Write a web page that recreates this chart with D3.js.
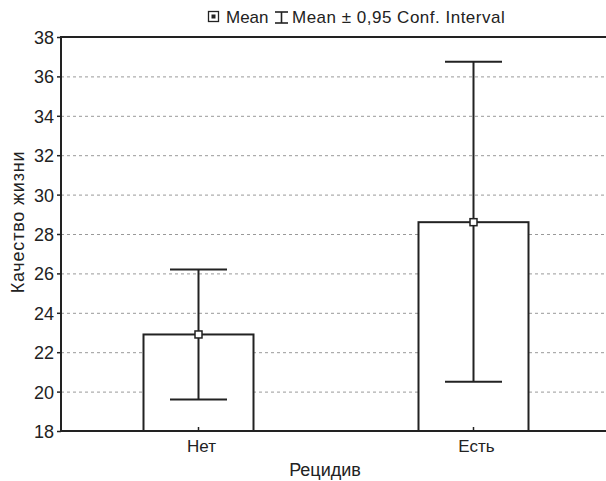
<!DOCTYPE html>
<html>
<head>
<meta charset="utf-8">
<script src="https://cdn.jsdelivr.net/npm/d3@7"></script>
<style>
body { margin: 0; background: #fff; }
text { font-family: "Liberation Sans", Arial, sans-serif; fill: #222; }
</style>
</head>
<body>
<div id="chart"></div>
<script>
var categories = ["Нет", "Есть"];
var means = [22.9, 28.6];
var ciLow = [19.6, 20.5];
var ciHigh = [26.2, 36.75];
var yTicks = [18, 20, 22, 24, 26, 28, 30, 32, 34, 36, 38];

const margin = {top: 37, right: -5, bottom: 50, left: 61};
const W = 606, H = 481;
const width = W - margin.left - margin.right;
const height = H - margin.top - margin.bottom;

const svg = d3.select("#chart").append("svg")
	.attr("width", W)
	.attr("height", H);

const g = svg.append("g")
	.attr("transform", "translate(" + margin.left + "," + margin.top + ")");

const xScale = d3.scaleBand()
	.domain(categories)
	.range([0, width])
	.paddingInner(0.6)
	.paddingOuter(0.3);

const yScale = d3.scaleLinear()
	.domain([18, 38])
	.range([height, 0]);

// grid
g.selectAll(".grid")
	.data(yTicks.slice(1, -1))
	.enter()
	.append("line")
	.attr("x1", 0)
	.attr("x2", width)
	.attr("y1", d => yScale(d) + 0.5)
	.attr("y2", d => yScale(d) + 0.5)
	.attr("stroke", "#999")
	.attr("stroke-width", 1)
	.attr("stroke-dasharray", "3,3");

// bars
const cx = d => xScale(d) + xScale.bandwidth() / 2;
const barW = 110;

g.selectAll(".bar")
	.data(categories)
	.enter()
	.append("rect")
	.attr("x", d => cx(d) - barW / 2)
	.attr("y", (d, i) => yScale(means[i]))
	.attr("width", barW)
	.attr("height", (d, i) => height - yScale(means[i]))
	.attr("fill", "#fff")
	.attr("stroke", "#222")
	.attr("stroke-width", 2);

// whiskers
const capW = 57;
categories.forEach(function(c, i) {
	g.append("line")
		.attr("x1", cx(c)).attr("x2", cx(c))
		.attr("y1", yScale(ciLow[i])).attr("y2", yScale(ciHigh[i]))
		.attr("stroke", "#222").attr("stroke-width", 2);
	[ciLow[i], ciHigh[i]].forEach(function(v) {
		g.append("line")
			.attr("x1", cx(c) - capW / 2).attr("x2", cx(c) + capW / 2)
			.attr("y1", yScale(v)).attr("y2", yScale(v))
			.attr("stroke", "#222").attr("stroke-width", 2);
	});
	g.append("rect")
		.attr("x", cx(c) - 3.5).attr("y", yScale(means[i]) - 3.5)
		.attr("width", 7).attr("height", 7)
		.attr("fill", "#fff").attr("stroke", "#222").attr("stroke-width", 1.5);
});

// axes
const yAxis = d3.axisLeft(yScale).tickValues(yTicks).tickSize(4).tickPadding(3);
const yg = g.append("g").call(yAxis);
yg.select(".domain").remove();
yg.selectAll("line").attr("stroke", "#222").attr("stroke-width", 1.5);
yg.selectAll("text").style("font-size", "18px").attr("dy", "0.36em");

const xAxis = d3.axisBottom(xScale).tickSize(-4).tickPadding(9);
const xg = g.append("g").attr("transform", "translate(0," + height + ")").call(xAxis);
xg.select(".domain").remove();
xg.selectAll("line").attr("stroke", "#222").attr("stroke-width", 1.5);
xg.selectAll("text").style("font-size", "17px").attr("dx", 3);

// frame
g.append("path")
	.attr("d", "M" + (width + 10) + ",0H0V" + height + "H" + (width + 10))
	.attr("fill", "none")
	.attr("stroke", "#222")
	.attr("stroke-width", 2);

// titles
svg.append("text")
	.attr("x", 325)
	.attr("y", 476)
	.attr("text-anchor", "middle")
	.style("font-size", "18px")
	.text("Рецидив");

svg.append("text")
	.attr("transform", "translate(24," + (margin.top + height / 2 - 12) + ") rotate(-90)")
	.attr("text-anchor", "middle")
	.style("font-size", "18px")
	.style("letter-spacing", "0.8px")
	.text("Качество жизни");

// legend
const leg = svg.append("g").attr("transform", "translate(208,17)");
leg.append("rect").attr("x", 0.5).attr("y", -5.5).attr("width", 10).attr("height", 10)
	.attr("fill", "#fff").attr("stroke", "#222").attr("stroke-width", 1.3);
leg.append("rect").attr("x", 3.5).attr("y", -2.5).attr("width", 4).attr("height", 4).attr("fill", "#222");
leg.append("text").attr("x", 18).attr("y", 5.5).style("font-size", "17px").text("Mean");
const ib = leg.append("g").attr("transform", "translate(67,0)").attr("stroke", "#222").attr("stroke-width", 1.6);
ib.append("line").attr("x1", 0).attr("x2", 13).attr("y1", -5).attr("y2", -5);
ib.append("line").attr("x1", 0).attr("x2", 13).attr("y1", 6).attr("y2", 6);
ib.append("line").attr("x1", 6.5).attr("x2", 6.5).attr("y1", -5).attr("y2", 6);
leg.append("text").attr("x", 84).attr("y", 5.5).style("font-size", "17px").style("letter-spacing", "0.5px").text("Mean ± 0,95 Conf. Interval");
</script>
</body>
</html>
